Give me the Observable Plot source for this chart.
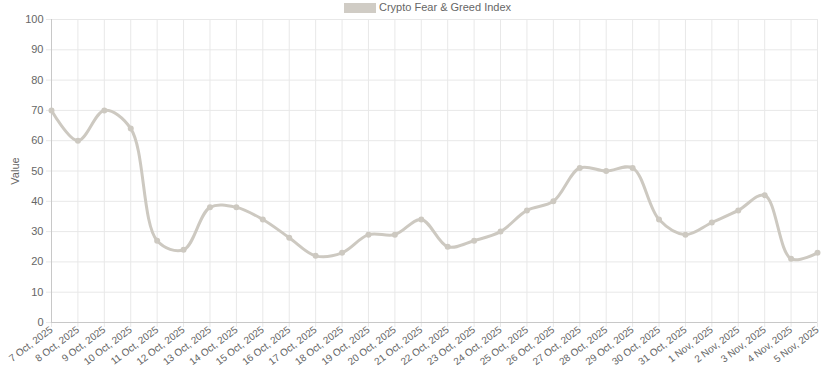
<!DOCTYPE html>
<html><head><meta charset="utf-8">
<script src="https://cdn.jsdelivr.net/npm/d3@7"></script>
<script src="https://cdn.jsdelivr.net/npm/@observablehq/plot@0.6"></script>
<style>
body{margin:0;background:#fff;font-family:"Liberation Sans",Arial,sans-serif}
#legend{height:14px;position:relative;font-size:11px;color:#666}
#legend .sw{position:absolute;left:344px;top:3px;width:32px;height:10px;background:#d0ccc5}
#legend .tx{position:absolute;left:379px;top:1px;white-space:nowrap}
</style></head><body>
<div id="legend"><span class="sw"></span><span class="tx">Crypto Fear &amp; Greed Index</span></div>
<div id="chart"></div>
<script>
const dates = ["7 Oct, 2025","8 Oct, 2025","9 Oct, 2025","10 Oct, 2025","11 Oct, 2025","12 Oct, 2025","13 Oct, 2025","14 Oct, 2025","15 Oct, 2025","16 Oct, 2025","17 Oct, 2025","18 Oct, 2025","19 Oct, 2025","20 Oct, 2025","21 Oct, 2025","22 Oct, 2025","23 Oct, 2025","24 Oct, 2025","25 Oct, 2025","26 Oct, 2025","27 Oct, 2025","28 Oct, 2025","29 Oct, 2025","30 Oct, 2025","31 Oct, 2025","1 Nov, 2025","2 Nov, 2025","3 Nov, 2025","4 Nov, 2025","5 Nov, 2025"];
const values = [70,60,70,64,27,24,38,38,34,28,22,23,29,29,34,25,27,30,37,40,51,50,51,34,29,33,37,42,21,23];
const yTicks = [0,10,20,30,40,50,60,70,80,90,100];
const seriesName = "Crypto Fear & Greed Index";
const data = dates.map((d,i)=>({date:d, value:values[i]}));
const col = "#cdc9c1";
const grid = "#e8e8e8";
const chart = Plot.plot({
  width: 831, height: 357,
  marginLeft: 51, marginRight: 14, marginTop: 5, marginBottom: 49,
  style: {fontFamily: '"Liberation Sans",Arial,sans-serif', fontSize: "11px", color: "#666", background: "#fff"},
  x: {type: "point", domain: dates, padding: 0, inset: 0, round: false},
  y: {domain: [0,100], inset: 0},
  marks: [
    Plot.ruleY(yTicks, {stroke: grid}),
    Plot.ruleX(dates, {stroke: grid}),
    Plot.axisX({ticks: dates, tickSize: 5, stroke: grid, fill: "#666", fontSize: 10, tickRotate: -37, tickPadding: 1, label: null}),
    Plot.axisY({ticks: yTicks, tickSize: 5, stroke: grid, fill: "#666", tickPadding: 3, label: "Value", labelAnchor: "center", labelArrow: "none", labelOffset: 40}),
    Plot.ruleX([dates[0]], {stroke: "#c8c8c8"}),
    Plot.ruleY([0], {stroke: "#c8c8c8"}),
    Plot.line(data, {x: "date", y: "value", curve: "catmull-rom", stroke: col, strokeWidth: 3}),
    Plot.dot(data, {x: "date", y: "value", r: 3, fill: col, title: d => `${seriesName}: ${d.value}`})
  ]
});
document.getElementById("chart").appendChild(chart);
</script>
</body></html>
